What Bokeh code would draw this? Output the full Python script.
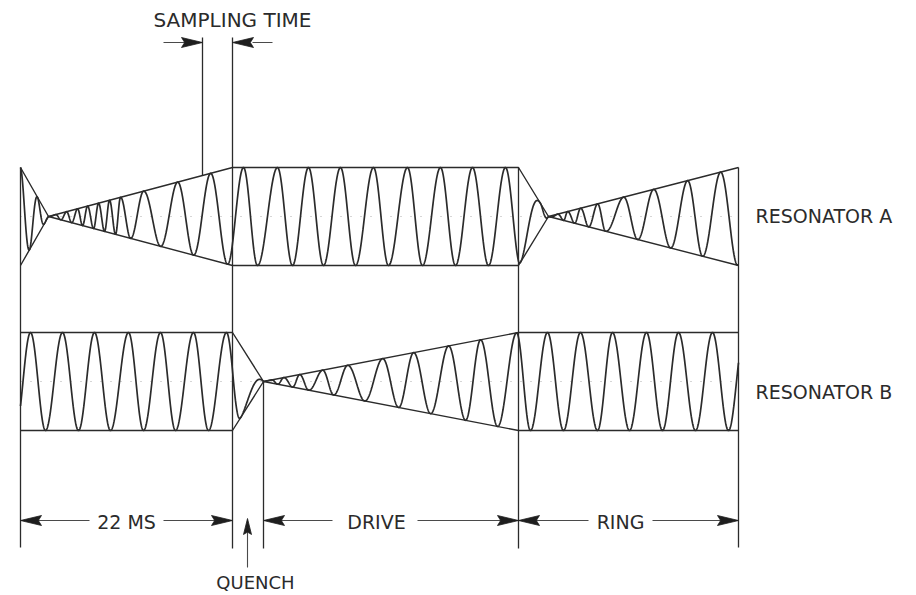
import numpy as np
from bokeh.plotting import figure
from bokeh.models import Range1d
from bokeh.core.properties import value
from bokeh.embed import file_html
from bokeh.resources import INLINE

# ---------------- data (page pixel units) ----------------
# segment boundaries along the time axis
t_start, t_sample, t_quench, t_drive, t_ring, t_end = 20, 202, 232, 263, 518, 738

# resonator A envelope (x, amplitude) and extrema positions (alternating peak/trough, first = peak)
A_center = 216
A_env_x = [20, 48, 232, 518, 548, 738]
A_env_a = [49, 0, 49, 49, 0, 49]
A_ext = [20, 29, 37, 44, 55, 60, 66, 71, 77, 82, 87, 93, 98, 104, 109, 115, 120, 130,
         143, 160, 177, 193, 210, 227, 243, 257, 277, 292, 308, 323, 340, 355, 373, 388,
         407, 422, 440, 455, 472, 488, 505, 520, 540, 549, 557, 563, 567, 574, 580, 588,
         597, 605, 623, 637, 653, 670, 687, 702, 720, 737]

# resonator B envelope and extrema (first = peak)
B_center = 381
B_env_x = [20, 232, 263, 518, 738]
B_env_a = [49, 49, 0, 49, 49]
B_ext = [30, 45, 62, 78, 94, 110, 128, 143, 160, 175, 193, 208, 226, 240, 271, 277, 283,
         292, 299, 308, 322, 333, 347, 364, 382, 398, 413, 430, 448, 465, 480, 497, 516,
         530, 547, 563, 580, 597, 612, 629, 646, 662, 678, 695, 712, 728]

labels = ["SAMPLING TIME", "RESONATOR A", "RESONATOR B", "22 MS", "DRIVE", "RING", "QUENCH"]

INK = "#2b2b2b"
DIM = "#4a4a4a"
FONT = value("DejaVu Sans")

W, H = 916, 595
p = figure(width=W, height=H, x_range=Range1d(0, W), y_range=Range1d(H, 0),
           output_backend="svg", toolbar_location=None, min_border=0,
           x_axis_type=None, y_axis_type=None)
p.grid.visible = False
p.outline_line_color = None
p.background_fill_color = "white"
p.border_fill_color = "white"


def wave(ext, env_x, env_a, center, x0, x1):
    ext = np.asarray(ext, dtype=float)
    th = np.pi * np.arange(len(ext))
    xs = np.arange(x0, x1 + 0.01, 0.25)
    theta = np.interp(xs, ext, th)
    # linear phase continuation outside the first / last extremum
    lo = xs < ext[0]
    theta[lo] = (xs[lo] - ext[0]) / (ext[1] - ext[0]) * np.pi
    hi = xs > ext[-1]
    theta[hi] = th[-1] + (xs[hi] - ext[-1]) / (ext[-1] - ext[-2]) * np.pi
    amp = np.interp(xs, env_x, env_a)
    return xs, center - amp * np.cos(theta)


# faint dotted centre lines
for c in (A_center, B_center):
    p.line([t_start, t_end], [c, c], line_color="#9a9a9a", line_width=1,
           line_dash="1 9", line_alpha=0.8)

# waves
for ext, ex, ea, c in ((A_ext, A_env_x, A_env_a, A_center), (B_ext, B_env_x, B_env_a, B_center)):
    xs, ys = wave(ext, ex, ea, c, t_start, t_end)
    p.line(xs, ys, line_color=INK, line_width=1.7)
    # envelopes
    p.line(ex, [c - a for a in ea], line_color=INK, line_width=1.4)
    p.line(ex, [c + a for a in ea], line_color=INK, line_width=1.4)

# vertical boundary lines
A_top_at_sample = A_center - np.interp(t_sample, A_env_x, A_env_a)
p.segment(x0=[t_start, t_sample, t_quench, t_drive, t_ring, t_end],
          y0=[A_center - 49, 37, 37, B_center, A_center - 49, A_center - 49],
          x1=[t_start, t_sample, t_quench, t_drive, t_ring, t_end],
          y1=[547, A_top_at_sample, 548, 548, 548, 547],
          line_color=INK, line_width=1.3)

# dimension lines (with gaps for labels)
dim_y = 520
p.segment(x0=[t_start, 163, t_drive, 417, t_ring, 652, 163, 252],
          y0=[dim_y] * 6 + [42, 42],
          x1=[89, t_quench, 332, t_ring, 588, t_end, t_sample, 272],
          y1=[dim_y] * 6 + [42, 42],
          line_color=DIM, line_width=1.1)
# quench arrow shaft
p.segment(x0=[247], y0=[567], x1=[247], y1=[522], line_color=DIM, line_width=1.1)


def head(tx, ty, dx, dy, L=21, w=5.0):
    bx, by = tx - L * dx, ty - L * dy
    nx, ny = -dy, dx
    mx, my = bx + 0.15 * L * dx, by + 0.15 * L * dy
    return [tx, bx + w * nx, mx, bx - w * nx], [ty, by + w * ny, my, by - w * ny]


heads = [(t_sample, 42, 1, 0), (t_quench, 42, -1, 0),
         (t_start, dim_y, -1, 0), (t_quench, dim_y, 1, 0),
         (t_drive, dim_y, -1, 0), (t_ring, dim_y, 1, 0),
         (t_ring, dim_y, -1, 0), (t_end, dim_y, 1, 0)]
hx, hy = [], []
for tx, ty, dx, dy in heads:
    a, b = head(tx, ty, dx, dy)
    hx.append(a)
    hy.append(b)
a, b = head(247, 518, 0, -1, L=16, w=4.0)
hx.append(a)
hy.append(b)
p.patches(hx, hy, fill_color="#1e1e1e", line_color="#1e1e1e", line_width=0.8)

# texts
p.text(x=[232], y=[19], text=[labels[0]], text_font=FONT, text_font_size="20px",
       text_align="center", text_baseline="middle", text_color=INK)
p.text(x=[755, 755], y=[215, 391], text=labels[1:3], text_font=FONT, text_font_size="19px",
       text_align="left", text_baseline="middle", text_color=INK)
p.text(x=[126, 376, 620], y=[521, 521, 521], text=labels[3:6], text_font=FONT,
       text_font_size="19px", text_align="center", text_baseline="middle", text_color=INK)
p.text(x=[255], y=[582], text=[labels[6]], text_font=FONT, text_font_size="18px",
       text_align="center", text_baseline="middle", text_color=INK)

open("out.html", "w").write(file_html(p, INLINE))
